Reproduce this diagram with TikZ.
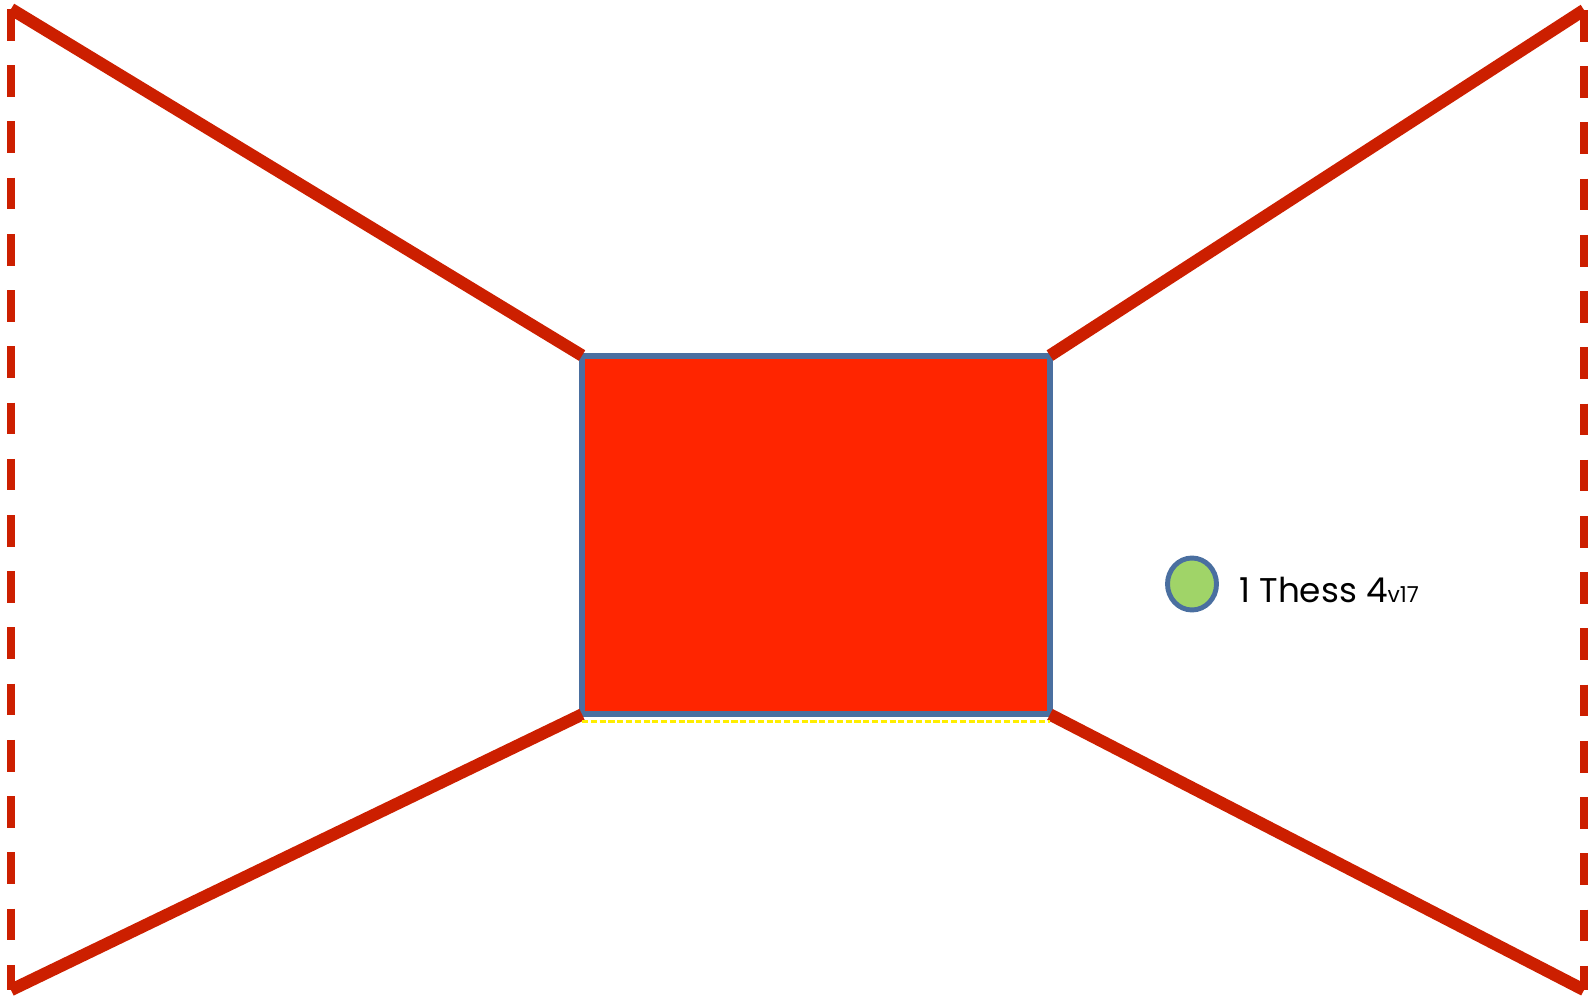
\documentclass[tikz,border=0pt]{standalone}
\usepackage{fontspec}
\setmainfont{Poppins}
\usepackage{tikz}
\usetikzlibrary{positioning}

\definecolor{wingred}{HTML}{CC1F00}
\definecolor{boardred}{HTML}{FF2500}
\definecolor{edgeblue}{HTML}{4A6FA0}
\definecolor{dotgreen}{HTML}{A0D468}
\definecolor{seamyellow}{HTML}{FFEE00}

\tikzset{
  wing/.style={wingred, line width=7pt},
  wingdash/.style={wingred, line width=4.6pt, dash pattern=on 18pt off 14pt},
  board/.style={draw=edgeblue, fill=boardred, line width=3.4pt, inner sep=0pt,
    outer sep=0pt, minimum width=9.36cm, minimum height=7.18cm},
  dot/.style={ellipse, draw=edgeblue, fill=dotgreen, line width=2.8pt,
    minimum width=0.98cm, minimum height=1.04cm, inner sep=0pt},
  verse/.style={font=\fontsize{19.5}{24}\selectfont, inner sep=0pt}
}
\usetikzlibrary{shapes.geometric}

\begin{document}
\begin{tikzpicture}[x=0.02cm, y=-0.02cm]
    \useasboundingbox (0,0) rectangle (1593,1000);
    \node[board] (box) at (816,535) {};
    \coordinate (tl) at (11,9);
    \coordinate (bl) at (11,990);
    \coordinate (tr) at (1584,10);
    \coordinate (br) at (1584,990);
    % dashed ends
    \draw[wingdash] (tl) -- (bl);
    \draw[wingdash] (tr) -- (br);
    % wings
    \draw[wing] (tl) -- (box.north west);
    \draw[wing] (bl) -- (box.south west);
    \draw[wing] (tr) -- (box.north east);
    \draw[wing] (br) -- (box.south east);
    \draw[seamyellow, line width=1.2pt, dash pattern=on 3.5pt off 1.5pt]
        ([yshift=-0.14cm]box.south west) -- ([yshift=-0.14cm]box.south east);
    % verse marker
    \node[dot] (pin) at (1192,584) {};
    \node[verse, right=0.94cm of pin.center, anchor=west, yshift=-0.12cm] (ref)
        {1 Thess 4{\fontsize{12.5}{15}\selectfont v17}};
\end{tikzpicture}
\end{document}
